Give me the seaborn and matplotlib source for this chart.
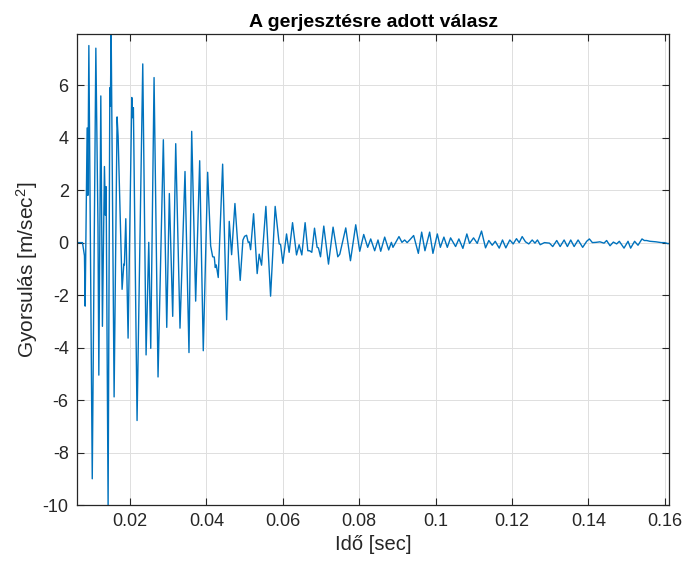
"""gerjesztes valasz"""

import numpy as np
import pandas as pd
import matplotlib
matplotlib.use("Agg")
import matplotlib.pyplot as plt
import seaborn as sns

sns.set_theme(style="whitegrid")
plt.rcParams["font.family"] = ["Liberation Sans", "DejaVu Sans"]
plt.rcParams["mathtext.default"] = "regular"
plt.rcParams["axes.unicode_minus"] = False

# time in ms, acceleration in m/sec^2
t_ms = [
    6.1, 7.54, 8.06, 8.24, 8.76, 8.95, 9.21, 10.1, 11.04, 11.6, 11.82, 12.34,
    12.76, 13.29, 13.55, 13.73, 14.25, 14.70, 14.85, 15.04, 15.82, 16.60,
    16.87, 17.91, 18.36, 18.51, 18.88, 19.48, 20.45, 20.60, 20.87, 21.83,
    23.32, 24.19, 24.89, 25.41, 26.28, 27.32, 28.71, 29.60, 30.28, 31.16,
    31.95, 33.07, 34.38, 35.42, 36.13, 37.17, 38.22, 39.16, 40.31, 41.09,
    41.62, 42.04, 42.30, 42.56, 43.08, 44.23, 45.28, 45.96, 46.58, 47.45,
    48.83, 49.54, 49.98, 50.50, 50.92, 51.2, 51.55, 52.33, 53.27, 53.80,
    54.42, 55.55, 56.78, 57.98, 59.03, 59.4, 59.99, 60.96, 61.64, 62.53,
    63.57, 64.25, 64.96, 65.82, 66.53, 67.0, 67.57, 68.28, 68.96, 69.3,
    69.85, 70.71, 71.94, 73.14, 74.37, 74.9, 76.46, 77.69, 79.07, 80.12,
    81.16, 82.20, 82.99, 84.03, 84.90, 85.61, 86.65, 87.70, 88.40, 88.82,
    90.39, 91.17, 91.88, 92.53, 93.19, 94.23, 95.46, 96.33, 97.19, 98.42,
    99.28, 100.43, 101.22, 102.15, 103.04, 103.90, 105.21, 106.07, 107.12,
    108.16, 108.87, 109.91, 110.88, 112.00, 113.05, 113.91, 114.80, 115.59,
    116.63, 117.49, 118.36, 119.40, 120.29, 121.15, 121.86, 122.64, 123.51,
    124.37, 125.26, 125.99, 126.64, 127.35, 128.47, 129.78, 130.64, 131.69,
    132.58, 133.62, 134.48, 135.35, 136.24, 137.28, 138.48, 139.53, 140.23,
    141.02, 141.98, 142.98, 144.07, 144.75, 145.64, 146.51, 147.37, 148.07,
    149.30, 150.35, 151.03, 152.07, 152.96, 154.01, 154.61, 155.21, 156.10,
    157.67, 159.06, 159.92, 160.81, 161.2,
]
accel = [
    0.0, 0.0, -0.5, -2.42, 4.37, 1.8, 7.51, -9.0, 7.41, 0.6, -5.05, 5.59,
    -3.19, 2.9, 1.04, 2.13, -10.1, 5.9, 5.2, 8.2, -5.88, 4.79,
    4.05, -1.78, -0.82, -0.85, 0.91, -3.64, 5.53, 4.76, 5.14, -6.78,
    6.81, -4.28, 0.01, -4.03, 6.29, -5.12, 3.92, -3.23, 1.87, -2.81,
    3.77, -3.26, 2.71, -4.19, 4.24, -2.23, 3.12, -4.12, 2.68, -0.12,
    -0.54, -0.55, -0.95, -0.85, -1.33, 2.99, -2.94, 0.81, -0.46, 1.49,
    -1.44, 0.10, 0.24, 0.28, 0.01, 0.03, -0.27, 1.10, -1.18, -0.44,
    -0.86, 1.38, -2.04, 1.38, -0.05, -0.07, -0.79, 0.33, -0.37, 0.76,
    -0.47, -0.08, -0.47, 0.76, -0.31, -0.31, -0.37, 0.55, -0.18, -0.2,
    -0.54, 0.63, -0.82, 0.59, -0.54, -0.44, 0.56, -0.69, 0.68, -0.33,
    0.31, -0.18, 0.14, -0.31, 0.10, -0.33, 0.21, -0.28, 0.01, -0.18,
    0.23, 0.01, 0.10, 0.0, 0.10, 0.27, -0.41, 0.40, -0.31, 0.40,
    -0.41, 0.33, -0.18, 0.21, -0.18, 0.18, -0.15, 0.14, -0.22,
    0.33, -0.03, 0.18, -0.03, 0.44, -0.2, 0.08, -0.1, 0.05,
    -0.21, 0.1, -0.2, 0.1, -0.05, 0.15, 0.0, 0.23, 0.03,
    -0.05, 0.10, -0.02, 0.10, -0.08, 0.0, -0.02, -0.15, 0.08,
    -0.15, 0.10, -0.15, 0.10, -0.15, 0.10, -0.18, 0.05, 0.14,
    0.0, 0.01, 0.03, -0.02, 0.08, -0.12, 0.02, -0.05, 0.05,
    -0.21, 0.05, -0.21, 0.05, -0.1, 0.14, 0.08, 0.08, 0.05,
    0.03, 0.0, 0.0, -0.04, -0.03,
]

x_ticks = [0.02, 0.04, 0.06, 0.08, 0.1, 0.12, 0.14, 0.16]
x_labels = ["0.02", "0.04", "0.06", "0.08", "0.1", "0.12", "0.14", "0.16"]
y_ticks = [-10, -8, -6, -4, -2, 0, 2, 4, 6]

df = pd.DataFrame({"t": np.array(t_ms) / 1000.0, "a": accel})

fig = plt.figure(figsize=(6.83, 5.62), dpi=100)
ax = fig.add_axes([0.1127, 0.1014, 0.8675, 0.8381])

sns.lineplot(data=df, x="t", y="a", sort=False, estimator=None,
             color="#0072BD", linewidth=1.0, ax=ax)

ax.set_xlim(df["t"].iloc[0], df["t"].iloc[-1])
ax.set_ylim(-10, 7.95)
ax.set_xticks(x_ticks)
ax.set_xticklabels(x_labels)
ax.set_yticks(y_ticks)

ax.set_facecolor("white")
ax.grid(True, color="#DFDFDF", linewidth=0.7)
for s in ax.spines.values():
    s.set_visible(True)
    s.set_color("#262626")
    s.set_linewidth(0.9)
ax.tick_params(direction="in", length=5, width=0.8, color="#262626",
               labelcolor="#262626", labelsize=13, top=True, right=True,
               bottom=True, left=True, pad=6)

ax.set_title("A gerjesztésre adott válasz", fontsize=14, fontweight="bold",
             color="black", pad=5)
ax.set_xlabel("Idő [sec]", fontsize=14.5, color="#262626", labelpad=3)
ax.set_ylabel("Gyorsulás [m/sec$^2$]", fontsize=15, color="#262626", labelpad=2)

fig.savefig("out.png", dpi=100)
